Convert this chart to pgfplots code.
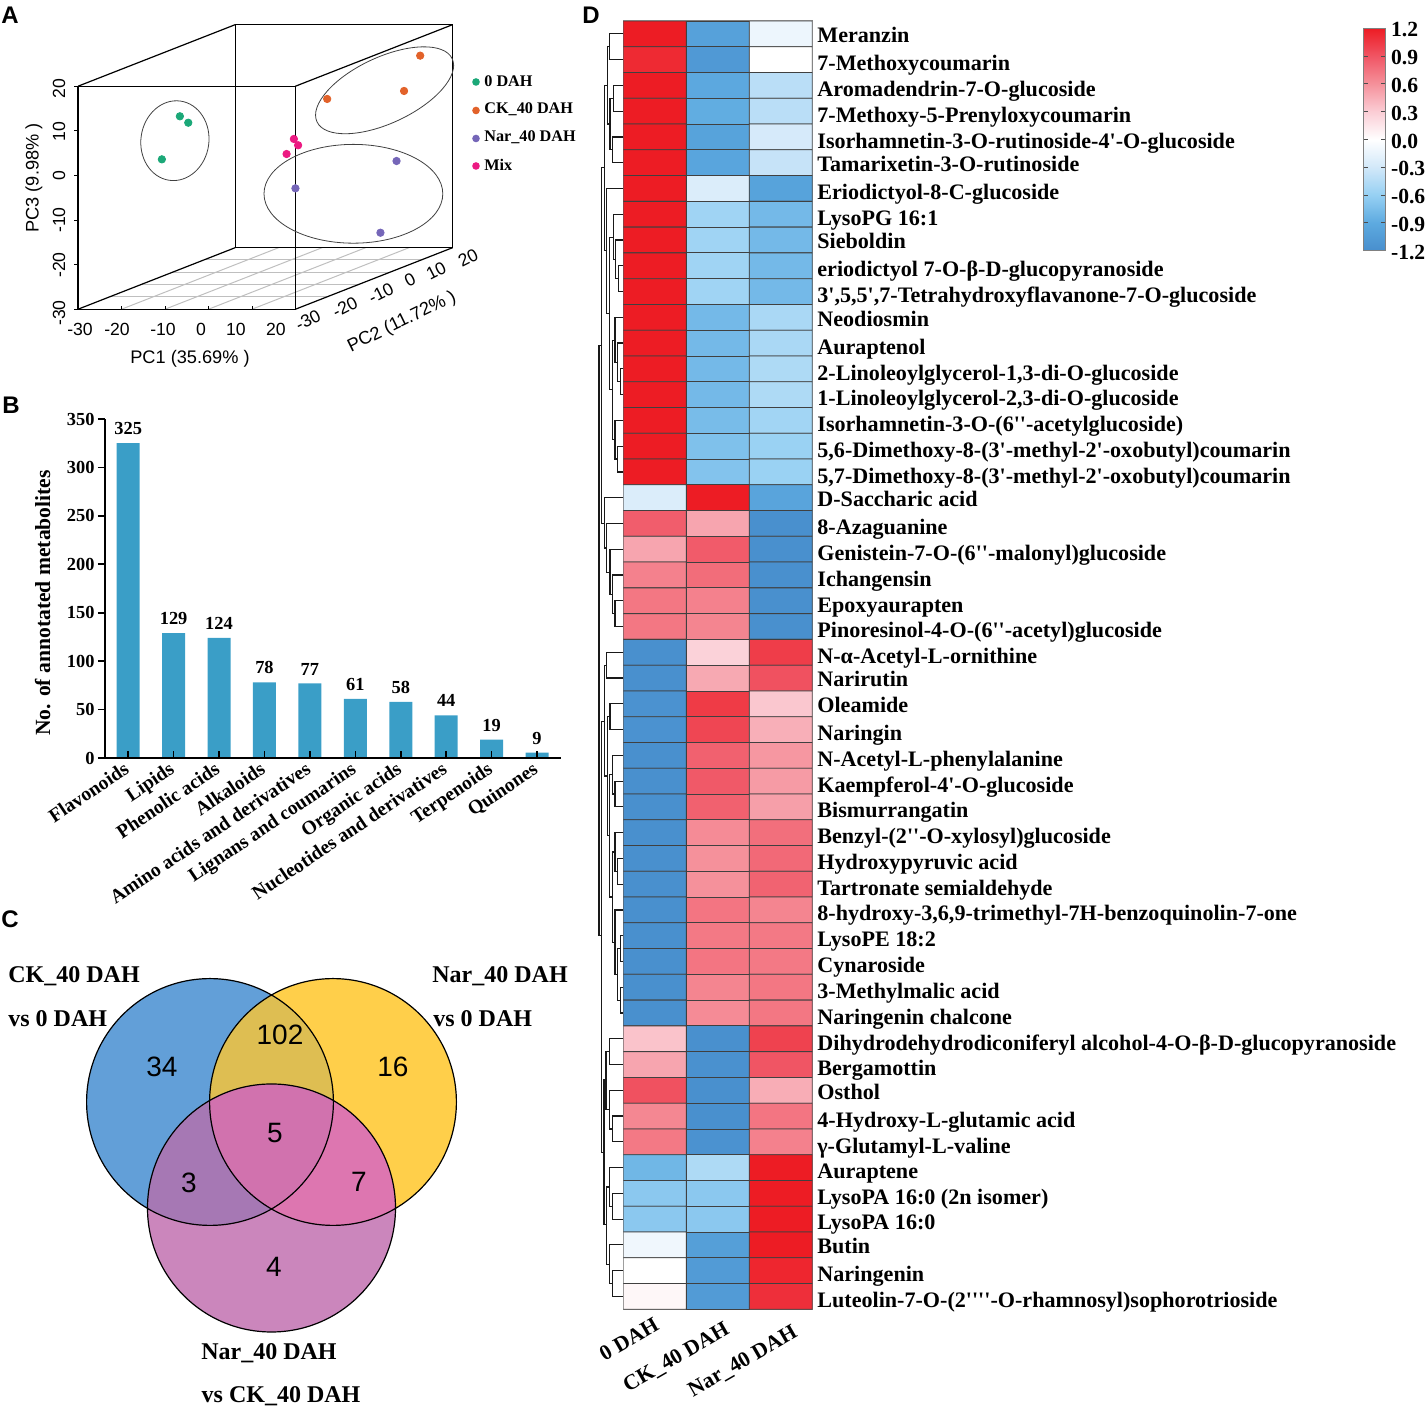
\documentclass[border=0pt]{standalone}
\usepackage{fontspec}
\setmainfont{Liberation Serif}[Ligatures=TeXOff]
\newfontfamily\arial{Liberation Sans}
\usepackage{pgfplots}
\usepackage{pgfplotstable}
\pgfplotsset{compat=1.18}
\usetikzlibrary{calc}

% 1 px of the reference = 0.5pt
\definecolor{ven1}{RGB}{98,159,216}
\definecolor{ven2}{RGB}{255,207,74}
\definecolor{ven3}{RGB}{203,134,188}
\definecolor{ven12}{RGB}{222,190,82}
\definecolor{ven13}{RGB}{166,120,180}
\definecolor{ven23}{RGB}{221,118,176}
\definecolor{ven123}{RGB}{209,114,174}
\definecolor{grp0}{RGB}{27,168,120}
\definecolor{grpck}{RGB}{226,98,42}
\definecolor{grpnar}{RGB}{117,102,184}
\definecolor{grpmix}{RGB}{236,26,130}
\definecolor{barblue}{RGB}{58,158,199}

\pgfplotstableread{
x y lab
0 325 325
1 129 129
2 124 124
3 78 78
4 77 77
5 61 61
6 58 58
7 44 44
8 19 19
9 5.5 9
}\classes

\pgfplotstableread{
x y v
0 1 1.2
1 1 -1.0
2 1 -0.12
0 2 1.13
1 2 -1.08
2 2 0.0
0 3 1.2
1 3 -0.92
2 3 -0.42
0 4 1.2
1 4 -0.88
2 4 -0.42
0 5 1.2
1 5 -0.98
2 5 -0.27
0 6 1.2
1 6 -0.95
2 6 -0.36
0 7 1.2
1 7 -0.24
2 7 -0.98
0 8 1.2
1 8 -0.55
2 8 -0.78
0 9 1.2
1 9 -0.55
2 9 -0.78
0 10 1.2
1 10 -0.55
2 10 -0.78
0 11 1.2
1 11 -0.55
2 11 -0.78
0 12 1.2
1 12 -0.78
2 12 -0.5
0 13 1.2
1 13 -0.78
2 13 -0.5
0 14 1.2
1 14 -0.78
2 14 -0.48
0 15 1.2
1 15 -0.78
2 15 -0.48
0 16 1.2
1 16 -0.76
2 16 -0.54
0 17 1.2
1 17 -0.72
2 17 -0.58
0 18 1.2
1 18 -0.7
2 18 -0.58
0 19 -0.24
1 19 1.2
2 19 -0.96
0 20 0.86
1 20 0.5
2 20 -1.18
0 21 0.5
1 21 0.87
2 21 -1.18
0 22 0.68
1 22 0.78
2 22 -1.18
0 23 0.73
1 23 0.68
2 23 -1.18
0 24 0.73
1 24 0.66
2 24 -1.18
0 25 -1.18
1 25 0.27
2 25 1.03
0 26 -1.18
1 26 0.48
2 26 0.92
0 27 -1.16
1 27 1.04
2 27 0.33
0 28 -1.16
1 28 0.98
2 28 0.45
0 29 -1.18
1 29 0.84
2 29 0.57
0 30 -1.18
1 30 0.88
2 30 0.55
0 31 -1.18
1 31 0.84
2 31 0.53
0 32 -1.18
1 32 0.63
2 32 0.77
0 33 -1.18
1 33 0.6
2 33 0.8
0 34 -1.18
1 34 0.6
2 34 0.83
0 35 -1.18
1 35 0.74
2 35 0.66
0 36 -1.18
1 36 0.72
2 36 0.72
0 37 -1.18
1 37 0.74
2 37 0.72
0 38 -1.18
1 38 0.66
2 38 0.73
0 39 -1.18
1 39 0.63
2 39 0.73
0 40 0.35
1 40 -1.18
2 40 1.0
0 41 0.5
1 41 -1.17
2 41 0.9
0 42 0.92
1 42 -1.18
2 42 0.46
0 43 0.65
1 43 -1.18
2 43 0.74
0 44 0.72
1 44 -1.16
2 44 0.68
0 45 -0.8
1 45 -0.48
2 45 1.2
0 46 -0.66
1 46 -0.66
2 46 1.2
0 47 -0.66
1 47 -0.66
2 47 1.2
0 48 -0.1
1 48 -1.02
2 48 1.2
0 49 0.0
1 49 -1.06
2 49 1.15
0 50 0.05
1 50 -1.06
2 50 1.1
}\heat

\pgfplotsset{
  tree/.style={black!90,line width=0.6pt,no markers,line join=miter},
  pcgrid/.style={black!25,line width=0.5pt,no markers},
  pcbox/.style={black,line width=0.6pt,no markers},
}
% one branch of the row dendrogram
\newcommand\br[5]{\addplot[tree] coordinates {(#3,#2) (#1,#2) (#1,#4) (#5,#4)};}

\begin{document}
\begin{tikzpicture}
\path[use as bounding box] (0,0) rectangle (713pt,704pt);

% ---- A: PCA box, oblique projection
\begin{axis}[
  at={(151.4pt,634.75pt)},anchor=origin,
  x={(2.174pt,0pt)},y={(1.573pt,0.616pt)},z={(0pt,2.23pt)},
  xmin=-30,xmax=20,ymin=-30,ymax=20,zmin=-30,zmax=20,
  hide axis,clip=false,
]
\addplot3[pcgrid] coordinates {(-20,-30,-30) (-20,20,-30)};
\addplot3[pcgrid] coordinates {(-10,-30,-30) (-10,20,-30)};
\addplot3[pcgrid] coordinates {(0,-30,-30) (0,20,-30)};
\addplot3[pcgrid] coordinates {(10,-30,-30) (10,20,-30)};
\addplot3[pcgrid] coordinates {(-30,-20,-30) (20,-20,-30)};
\addplot3[pcgrid] coordinates {(-30,-10,-30) (20,-10,-30)};
\addplot3[pcgrid] coordinates {(-30,0,-30) (20,0,-30)};
\addplot3[pcgrid] coordinates {(-30,10,-30) (20,10,-30)};
\addplot3[pcbox] coordinates {(-30,-30,-30) (20,-30,-30) (20,-30,20) (-30,-30,20) (-30,-30,-30)};
\addplot3[pcbox] coordinates {(-30,20,-30) (20,20,-30) (20,20,20) (-30,20,20) (-30,20,-30)};
\addplot3[pcbox] coordinates {(-30,-30,-30) (-30,20,-30)};
\addplot3[pcbox] coordinates {(20,-30,-30) (20,20,-30)};
\addplot3[pcbox] coordinates {(-30,-30,20) (-30,20,20)};
\addplot3[pcbox] coordinates {(20,-30,20) (20,20,20)};
\addplot3[only marks,mark=*,mark size=1.85pt,color=grp0] coordinates {(-13.8,-20,10.5) (-11.87,-20,9.06) (-17.94,-20,0.85)};
\addplot3[only marks,mark=*,mark size=1.85pt,color=grpck] coordinates {(19.76,10,15.81) (16.05,10,7.89) (-1.63,10,6.10)};
\addplot3[only marks,mark=*,mark size=1.85pt,color=grpnar] coordinates {(17.94,5,-6.43) (-5.31,5,-12.56) (14.24,5,-22.51)};
\addplot3[only marks,mark=*,mark size=1.85pt,color=grpmix] coordinates {(-2.05,0,-0.11) (-1.08,0,-1.52) (-3.73,0,-3.48)};
\end{axis}

% ---- B: annotated metabolites
\begin{axis}[
  at={(52.5pt,325pt)},anchor=south west,
  scale only axis,width=227.85pt,height=169.5pt,
  xmin=-0.51,xmax=9.52,ymin=0,ymax=350,
  axis x line=bottom,axis y line=left,
  axis line style={-,line width=1pt},
  ybar,bar width=11.5pt,
  xtick={0,...,9},
  xticklabels={Flavonoids,Lipids,Phenolic acids,Alkaloids,Amino acids and derivatives,Lignans and coumarins,Organic acids,Nucleotides and derivatives,Terpenoids,Quinones},
  x tick label style={rotate=34,anchor=north east,font=\fontsize{9.8}{10}\selectfont\bfseries,inner sep=1pt,xshift=-2pt,yshift=1.5pt},
  ytick={0,50,...,350},
  y tick label style={font=\fontsize{9.2}{10}\selectfont\bfseries,inner sep=1.5pt},
  /pgf/number format/assume math mode=true,
  ylabel={No. of annotated metabolites},
  ylabel style={font=\fontsize{10.8}{11}\selectfont\bfseries,at={(axis description cs:-0.104,0.457)},anchor=south},
  tick style={black,line width=0.8pt},
  xtick align=inside,ytick align=outside,
  major tick length=3.5pt,
  axis on top,
  nodes near coords,
  point meta=explicit symbolic,
  every node near coord/.append style={font=\fontsize{9.2}{10}\selectfont\bfseries,inner sep=4pt},
]
\addplot[fill=barblue,draw=none] table[x=x,y=y,meta=lab] {\classes};
\end{axis}

% ---- D: heat map
\begin{axis}[
  at={(311.65pt,49.35pt)},anchor=south west,
  scale only axis,width=94.5pt,height=644.15pt,
  xmin=-0.5,xmax=2.5,ymin=0.5,ymax=50.5,y dir=reverse,
  axis line style={black!50,line width=0.6pt},
  xtick=\empty,ytick=\empty,
  colormap={hm}{rgb255=(72,142,205) rgb255=(93,170,224) rgb255=(150,208,243) rgb255=(210,232,249) rgb255=(255,255,255) rgb255=(251,205,213) rgb255=(245,145,155) rgb255=(240,85,100) rgb255=(237,28,36)},
  point meta min=-1.2,point meta max=1.2,
  colorbar,
  colorbar style={
    at={(parent axis.north east)},anchor=north west,xshift=267pt,yshift=-3.65pt,
    scale only axis,width=11.15pt,height=111.2pt,
    ytick={-1.2,-0.9,-0.6,-0.3,0,0.3,0.6,0.9,1.2},
    yticklabels={-1.2,-0.9,-0.6,-0.3,0.0,0.3,0.6,0.9,1.2},
    y tick label style={font=\fontsize{10.8}{11}\selectfont\bfseries,inner sep=1pt,xshift=1.5pt,yshift=-0.8pt},
    axis line style={black!50,line width=0.4pt},
    tick style={black!70,line width=0.4pt},
    major tick length=2.5pt,
  },
]
\addplot[matrix plot*,mesh/cols=3,point meta=explicit,draw=black!75,line width=0.4pt] table[x=x,y=y,meta=v] {\heat};
\end{axis}

% row dendrogram, x in units of 1/3 px from 580
\begin{axis}[
  at={(298.33pt,49.35pt)},anchor=south west,
  scale only axis,width=13.33pt,height=644.15pt,
  xmin=50,xmax=130,ymin=0.5,ymax=50.5,y dir=reverse,
  hide axis,clip=false,
]
\br{88}{1}{130}{2}{130}
\br{100}{3}{130}{4}{130}
\br{97}{5}{130}{6}{130}
\br{90}{3.5}{100}{5.5}{97}
\br{82}{1.5}{88}{4.5}{90}
\br{115}{10}{130}{11}{130}
\br{107}{9}{130}{10.5}{115}
\br{100}{8}{130}{9.75}{107}
\br{121}{14}{130}{15}{130}
\br{113}{13}{130}{14.5}{121}
\br{105}{12}{130}{13.75}{113}
\br{113}{17}{130}{18}{130}
\br{105}{16}{130}{17.5}{113}
\br{97}{12.9}{105}{16.75}{105}
\br{88}{8.9}{100}{14.8}{97}
\br{80}{7}{130}{11.85}{88}
\br{73}{3}{82}{9.4}{80}
\br{105}{23}{130}{24}{130}
\br{97}{22}{130}{23.5}{105}
\br{90}{21}{130}{22.75}{97}
\br{80}{20}{130}{21.9}{90}
\br{73}{19}{130}{20.95}{80}
\br{65}{6.2}{73}{20}{73}
\br{80}{25}{130}{26}{130}
\br{90}{27}{130}{28}{130}
\br{105}{30}{130}{31}{130}
\br{97}{29}{130}{30.5}{105}
\br{113}{33}{130}{34}{130}
\br{105}{32}{130}{33.5}{113}
\br{122}{36}{130}{37}{130}
\br{122}{38}{130}{39}{130}
\br{113}{36.5}{122}{38.5}{122}
\br{105}{35}{130}{37.5}{113}
\br{97}{32.75}{105}{36.25}{105}
\br{88}{29.75}{97}{34.5}{97}
\br{82}{27.5}{90}{32.1}{88}
\br{73}{25.5}{80}{29.8}{82}
\br{88}{40}{130}{41}{130}
\br{97}{43}{130}{44}{130}
\br{88}{42}{130}{43.5}{97}
\br{78}{40.5}{88}{42.75}{88}
\br{97}{46}{130}{47}{130}
\br{88}{45}{130}{46.5}{97}
\br{97}{49}{130}{50}{130}
\br{88}{48}{130}{49.5}{97}
\br{80}{45.75}{88}{48.75}{88}
\br{72}{41.6}{78}{47.2}{80}
\br{65}{27.7}{73}{44.4}{72}
\br{57}{13.1}{65}{36}{65}
\end{axis}

% ---- everything schematic, in reference pixels
\begin{scope}[x=0.5pt,y=-0.5pt,yshift=704pt]
% panel letters
\foreach \lx/\ly/\lt in {10/15/A,591/15.5/D,11/405/B,10/919/C}
  \node[font=\fontsize{12}{12}\selectfont\arial\bfseries,inner sep=0pt] at (\lx,\ly) {\lt};

% A: ticks, labels, ellipses, legend
\foreach \tx in {78,121.5,165,208.5,252,295.4} \draw[line width=0.5pt] (\tx,309.3) -- (\tx,306);
\foreach \ty in {86.3,131,175.6,220.2,265,309.3} \draw[line width=0.5pt] (78,\ty) -- (74,\ty);
\begin{scope}[font=\fontsize{8.8}{9}\selectfont\arial,inner sep=0pt]
\foreach \lx/\ly/\lt in {80/329/-30,117/329/-20,163/329/-10,201/329/0,236/329/10,276/329/20}
  \node at (\lx,\ly) {\lt};
\foreach \ly/\lt in {89/20,132/10,176/0,220/-10,265/-20,313/-30}
  \node[rotate=90] at (59,\ly) {\lt};
\foreach \lx/\ly/\lt in {308/320/-30,345/307/-20,381/293/-10,410/280/0,436/271/10,468/258/20}
  \node[rotate=27] at (\lx,\ly) {\lt};
\end{scope}
\begin{scope}[font=\fontsize{9.1}{10}\selectfont\arial,inner sep=0pt]
\node at (190,359) {PC1 (35.69\% )};
\node[rotate=90] at (34,178) {PC3 (9.98\% )};
\node[rotate=26] at (402,322) {PC2 (11.72\% )};
\end{scope}
\draw[black!75,line width=0.4pt,shift={(174.9,140.7)},rotate=82] (0,0) ellipse [x radius=20pt,y radius=17pt];
\draw[black!75,line width=0.4pt,shift={(384.6,90.3)},rotate=25] (0,0) ellipse [x radius=37.3pt,y radius=16.5pt];
\draw[black!75,line width=0.4pt,shift={(353.4,193.8)}] (0,0) ellipse [x radius=44.7pt,y radius=24.7pt];
\foreach \ly/\lc/\lt in {82/grp0/0 DAH,110.5/grpck/CK\_40 DAH,138.5/grpnar/Nar\_40 DAH,166/grpmix/Mix}{
  \fill[\lc] (476,\ly) circle [radius=1.9pt];
  \node[anchor=west,font=\fontsize{8.1}{9}\selectfont\bfseries,inner sep=0pt] at (484,\ly-1) {\lt};
}

% C: Venn diagram
\def\cA{(210,1102) circle [radius=61.7pt]}
\def\cB{(333,1102) circle [radius=61.7pt]}
\def\cC{(271.5,1208) circle [radius=62pt]}
\fill[ven1] \cA;
\fill[ven2] \cB;
\fill[ven3] \cC;
\begin{scope}\clip \cA; \fill[ven12] \cB; \end{scope}
\begin{scope}\clip \cA; \fill[ven13] \cC; \end{scope}
\begin{scope}\clip \cB; \fill[ven23] \cC; \end{scope}
\begin{scope}\clip \cA; \clip \cB; \fill[ven123] \cC; \end{scope}
\draw[black,line width=0.6pt] \cA \cB \cC;
\foreach \lx/\ly/\lt in {162/1067/34,280/1035/102,393/1067/16,275/1133/5,189/1183/3,359/1182/7,274/1267/4}
  \node[font=\fontsize{14}{14}\selectfont\arial,inner sep=0pt] at (\lx,\ly) {\lt};
\begin{scope}[font=\fontsize{12}{13}\selectfont\bfseries,inner sep=0pt]
\node[anchor=west] at (8,976.5) {CK\_40 DAH};
\node[anchor=west] at (8,1019) {vs 0 DAH};
\node[anchor=west] at (432,976.5) {Nar\_40 DAH};
\node[anchor=west] at (433,1019) {vs 0 DAH};
\node at (269,1353.5) {Nar\_40 DAH};
\node at (281,1396.5) {vs CK\_40 DAH};
\end{scope}

% D: row and column names
\begin{scope}[font=\fontsize{11.05}{12}\selectfont\bfseries,inner sep=0pt]
\foreach \ly/\lt in {35/Meranzin,63/7-Methoxycoumarin,89/Aromadendrin-7-O-glucoside,115/7-Methoxy-5-Prenyloxycoumarin,
  141/Isorhamnetin-3-O-rutinoside-4'-O-glucoside,164/Tamarixetin-3-O-rutinoside,192/Eriodictyol-8-C-glucoside,
  218/LysoPG 16:1,241/Sieboldin,269/eriodictyol 7-O-β-D-glucopyranoside,295/{3',5,5',7-Tetrahydroxyflavanone-7-O-glucoside},
  319/Neodiosmin,347/Auraptenol,373/{2-Linoleoylglycerol-1,3-di-O-glucoside},398/{1-Linoleoylglycerol-2,3-di-O-glucoside},
  424/Isorhamnetin-3-O-(6''-acetylglucoside),450/{5,6-Dimethoxy-8-(3'-methyl-2'-oxobutyl)coumarin},476/{5,7-Dimethoxy-8-(3'-methyl-2'-oxobutyl)coumarin},
  499/D-Saccharic acid,527/8-Azaguanine,553/Genistein-7-O-(6''-malonyl)glucoside,579/Ichangensin,605/Epoxyaurapten,
  630/Pinoresinol-4-O-(6''-acetyl)glucoside,656/N-α-Acetyl-L-ornithine,679/Narirutin,705/Oleamide,733/Naringin,
  759/N-Acetyl-L-phenylalanine,785/Kaempferol-4'-O-glucoside,810/Bismurrangatin,836/Benzyl-(2''-O-xylosyl)glucoside,
  862/Hydroxypyruvic acid,888/Tartronate semialdehyde,913/{8-hydroxy-3,6,9-trimethyl-7H-benzoquinolin-7-one},939/LysoPE 18:2,
  965/Cynaroside,991/3-Methylmalic acid,1017/Naringenin chalcone,1043/Dihydrodehydrodiconiferyl alcohol-4-O-β-D-glucopyranoside,
  1068/Bergamottin,1092/Osthol,1120/4-Hydroxy-L-glutamic acid,1146/γ-Glutamyl-L-valine,1171/Auraptene,
  1197/LysoPA 16:0 (2n isomer),1222/LysoPA 16:0,1246/Butin,1274/Naringenin,1300/Luteolin-7-O-(2''''-O-rhamnosyl)sophorotrioside}
  \node[anchor=base west] at (817,\ly+7.3) {\lt};
\end{scope}
\begin{scope}[font=\fontsize{10.8}{11}\selectfont\bfseries,inner sep=0pt]
\node[rotate=30,anchor=east] at (657,1323) {0 DAH};
\node[rotate=30,anchor=east] at (728,1328) {CK\_40 DAH};
\node[rotate=30,anchor=east] at (796,1331) {Nar\_40 DAH};
\end{scope}
\end{scope}
\end{tikzpicture}
\end{document}
